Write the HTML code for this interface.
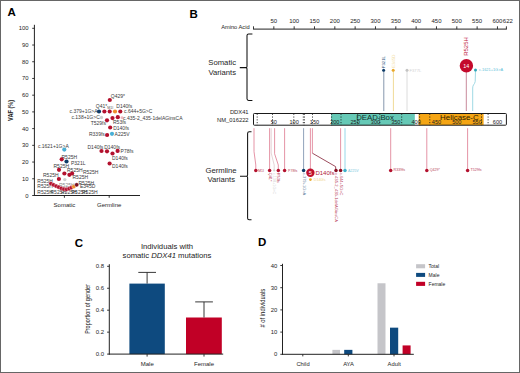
<!DOCTYPE html>
<html><head><meta charset="utf-8"><style>
html,body{margin:0;padding:0;background:#fff;}
body{width:520px;height:373px;overflow:hidden;position:relative;}
svg{display:block;position:absolute;left:0;top:0;}
text{font-family:"Liberation Sans",sans-serif;}
</style></head><body>
<svg width="520" height="373" viewBox="0 0 520 373">
<rect x="0" y="0" width="520" height="373" fill="#fff"/>
<text x="7.4" y="15.7" font-size="11.5" text-anchor="start" fill="#000" font-weight="bold">A</text>
<line x1="34.4" y1="24.8" x2="34.4" y2="196.0" stroke="#222" stroke-width="1" />
<line x1="32.199999999999996" y1="195.5" x2="34.4" y2="195.5" stroke="#222" stroke-width="0.9" />
<text x="28.6" y="197.5" font-size="5.9" text-anchor="end" fill="#1e1e1e" >0</text>
<line x1="32.199999999999996" y1="178.78" x2="34.4" y2="178.78" stroke="#222" stroke-width="0.9" />
<text x="28.6" y="180.78" font-size="5.9" text-anchor="end" fill="#1e1e1e" >10</text>
<line x1="32.199999999999996" y1="162.06" x2="34.4" y2="162.06" stroke="#222" stroke-width="0.9" />
<text x="28.6" y="164.06" font-size="5.9" text-anchor="end" fill="#1e1e1e" >20</text>
<line x1="32.199999999999996" y1="145.34" x2="34.4" y2="145.34" stroke="#222" stroke-width="0.9" />
<text x="28.6" y="147.34" font-size="5.9" text-anchor="end" fill="#1e1e1e" >30</text>
<line x1="32.199999999999996" y1="128.62" x2="34.4" y2="128.62" stroke="#222" stroke-width="0.9" />
<text x="28.6" y="130.62" font-size="5.9" text-anchor="end" fill="#1e1e1e" >40</text>
<line x1="32.199999999999996" y1="111.9" x2="34.4" y2="111.9" stroke="#222" stroke-width="0.9" />
<text x="28.6" y="113.9" font-size="5.9" text-anchor="end" fill="#1e1e1e" >50</text>
<line x1="32.199999999999996" y1="95.18" x2="34.4" y2="95.18" stroke="#222" stroke-width="0.9" />
<text x="28.6" y="97.18" font-size="5.9" text-anchor="end" fill="#1e1e1e" >60</text>
<line x1="32.199999999999996" y1="78.46000000000001" x2="34.4" y2="78.46000000000001" stroke="#222" stroke-width="0.9" />
<text x="28.6" y="80.46000000000001" font-size="5.9" text-anchor="end" fill="#1e1e1e" >70</text>
<line x1="32.199999999999996" y1="61.74000000000001" x2="34.4" y2="61.74000000000001" stroke="#222" stroke-width="0.9" />
<text x="28.6" y="63.74000000000001" font-size="5.9" text-anchor="end" fill="#1e1e1e" >80</text>
<line x1="32.199999999999996" y1="45.02000000000001" x2="34.4" y2="45.02000000000001" stroke="#222" stroke-width="0.9" />
<text x="28.6" y="47.02000000000001" font-size="5.9" text-anchor="end" fill="#1e1e1e" >90</text>
<line x1="32.199999999999996" y1="28.30000000000001" x2="34.4" y2="28.30000000000001" stroke="#222" stroke-width="0.9" />
<text x="28.6" y="30.30000000000001" font-size="5.9" text-anchor="end" fill="#1e1e1e" >100</text>
<line x1="33.9" y1="195.5" x2="140" y2="195.5" stroke="#222" stroke-width="1" />
<line x1="64.4" y1="195.5" x2="64.4" y2="197.8" stroke="#222" stroke-width="0.9" />
<line x1="109.2" y1="195.5" x2="109.2" y2="197.8" stroke="#222" stroke-width="0.9" />
<text x="64.4" y="206.7" font-size="6" text-anchor="middle" fill="#1e1e1e" >Somatic</text>
<text x="109.2" y="206.7" font-size="6" text-anchor="middle" fill="#1e1e1e" >Germline</text>
<text transform="translate(12.9,110.4) rotate(-90) scale(0.85,1)" font-size="6.6" font-weight="bold" text-anchor="middle" fill="#222">VAF (%)</text>
<circle cx="109.8" cy="100" r="2.1" fill="#b3112e"/>
<text x="110.8" y="98.3" font-size="5" text-anchor="start" fill="#3a3a3a" >Q429*</text>
<text x="95.8" y="108" font-size="5" text-anchor="start" fill="#3a3a3a" >Q41*</text>
<text x="107.3" y="109" font-size="3.5" text-anchor="start" fill="#555" >M1I</text>
<text x="116.3" y="108" font-size="5" text-anchor="start" fill="#3a3a3a" >D140fs</text>
<circle cx="99" cy="111.5" r="2.1" fill="#0e3c68"/>
<circle cx="104.4" cy="111.5" r="2.1" fill="#b3112e"/>
<circle cx="109.7" cy="111.5" r="2.1" fill="#b3112e"/>
<circle cx="115" cy="111.5" r="2.1" fill="#ef8d2c"/>
<circle cx="120.3" cy="111.5" r="2.1" fill="#b3112e"/>
<text x="97.6" y="113.2" font-size="5" text-anchor="end" fill="#3a3a3a" >c.379+1G&gt;A</text>
<text x="124" y="113" font-size="5" text-anchor="start" fill="#3a3a3a" >c.644+5G&gt;C</text>
<circle cx="101.5" cy="117.5" r="1.6800000000000002" fill="#cfcfcf"/>
<circle cx="112.5" cy="118.1" r="2.1" fill="#b3112e"/>
<circle cx="117.8" cy="117.2" r="2.1" fill="#b3112e"/>
<circle cx="122" cy="117.7" r="1.47" fill="#efb9c4"/>
<text x="99.8" y="119.4" font-size="5" text-anchor="end" fill="#3a3a3a" >c.138+1G&gt;C</text>
<text x="123" y="119.5" font-size="5" text-anchor="start" fill="#3a3a3a" >c.435-2_435-1delAGinsCA</text>
<circle cx="107" cy="120.3" r="2.1" fill="#b3112e"/>
<text x="113" y="123.5" font-size="5" text-anchor="start" fill="#3a3a3a" >R53fs</text>
<text x="106" y="125.4" font-size="5" text-anchor="end" fill="#3a3a3a" >T529fs</text>
<circle cx="110.2" cy="127.5" r="2.1" fill="#b3112e"/>
<text x="113.2" y="129.7" font-size="5" text-anchor="start" fill="#3a3a3a" >D140fs</text>
<circle cx="107.1" cy="135" r="2.1" fill="#b3112e"/>
<circle cx="112" cy="133.8" r="2.1" fill="#49afd6"/>
<text x="104.8" y="136" font-size="5" text-anchor="end" fill="#3a3a3a" >R339fs</text>
<text x="114.6" y="136" font-size="5" text-anchor="start" fill="#3a3a3a" >A225V</text>
<text x="87.5" y="148.6" font-size="5" text-anchor="start" fill="#3a3a3a" >D140fs</text>
<text x="104.2" y="148.8" font-size="5" text-anchor="start" fill="#3a3a3a" >D140fs</text>
<circle cx="101.5" cy="151" r="2.1" fill="#b3112e"/>
<circle cx="107" cy="151.3" r="2.1" fill="#b3112e"/>
<circle cx="112.5" cy="153.5" r="2.1" fill="#b3112e"/>
<circle cx="117.6" cy="150.9" r="2.1" fill="#b3112e"/>
<text x="120.6" y="153" font-size="5" text-anchor="start" fill="#3a3a3a" >P78fs</text>
<text x="112" y="160" font-size="5" text-anchor="start" fill="#3a3a3a" >D140fs</text>
<circle cx="109.6" cy="163.5" r="2.1" fill="#b3112e"/>
<text x="112" y="167.5" font-size="5" text-anchor="start" fill="#3a3a3a" >D140fs</text>
<text x="37.9" y="147.7" font-size="5" text-anchor="start" fill="#3a3a3a" >c.1621+1G&gt;A</text>
<circle cx="64.3" cy="149.6" r="2.1" fill="#49afd6"/>
<text x="61.5" y="159" font-size="5" text-anchor="start" fill="#3a3a3a" >R525H</text>
<circle cx="61.7" cy="159.3" r="2.1" fill="#b3112e"/>
<circle cx="66.5" cy="161.5" r="2.1" fill="#0e3c68"/>
<text x="71" y="164.8" font-size="5" text-anchor="start" fill="#3a3a3a" >P321L</text>
<text x="53.5" y="167.9" font-size="5" text-anchor="start" fill="#3a3a3a" >R525H</text>
<circle cx="59" cy="169.8" r="2.1" fill="#b3112e"/>
<text x="67" y="172" font-size="5" text-anchor="start" fill="#3a3a3a" >R525H</text>
<circle cx="64.4" cy="173.5" r="2.1" fill="#b3112e"/>
<circle cx="69.4" cy="174.8" r="2.1" fill="#b3112e"/>
<circle cx="72.1" cy="173.5" r="2.1" fill="#b3112e"/>
<text x="82.9" y="174" font-size="5" text-anchor="start" fill="#3a3a3a" >R525H</text>
<text x="43" y="177" font-size="5" text-anchor="start" fill="#3a3a3a" >R525H</text>
<circle cx="58.9" cy="179" r="2.1" fill="#b3112e"/>
<circle cx="64.8" cy="179.6" r="1.6800000000000002" fill="#cfcfcf"/>
<text x="72.5" y="179.4" font-size="5" text-anchor="start" fill="#3a3a3a" >R525H</text>
<text x="37.3" y="183.1" font-size="5" text-anchor="start" fill="#3a3a3a" >R525H</text>
<text x="37.3" y="188.4" font-size="5" text-anchor="start" fill="#3a3a3a" >R525H</text>
<text x="78.5" y="184.8" font-size="5" text-anchor="start" fill="#3a3a3a" >R525H</text>
<text x="80" y="188.4" font-size="5" text-anchor="start" fill="#3a3a3a" >E345D</text>
<text x="59" y="187.2" font-size="5" text-anchor="start" fill="#888" >R525H</text>
<text x="37.3" y="193.8" font-size="5" text-anchor="start" fill="#3a3a3a" >R525H</text>
<text x="50.5" y="193.8" font-size="5" text-anchor="start" fill="#3a3a3a" >R525H</text>
<text x="61" y="193.8" font-size="5" text-anchor="start" fill="#3a3a3a" >R525H</text>
<text x="71.5" y="193.8" font-size="5" text-anchor="start" fill="#3a3a3a" >R525H</text>
<text x="82" y="193.8" font-size="5" text-anchor="start" fill="#3a3a3a" >R525H</text>
<circle cx="50.9" cy="183.6" r="2.1" fill="#b3112e" stroke="#fff" stroke-width="0.35"/>
<circle cx="53.5" cy="184.9" r="2.1" fill="#b3112e" stroke="#fff" stroke-width="0.35"/>
<circle cx="56.1" cy="186.1" r="2.1" fill="#b3112e" stroke="#fff" stroke-width="0.35"/>
<circle cx="58.7" cy="187.2" r="2.1" fill="#b3112e" stroke="#fff" stroke-width="0.35"/>
<circle cx="61.3" cy="188.3" r="2.1" fill="#b3112e" stroke="#fff" stroke-width="0.35"/>
<circle cx="63.9" cy="189.2" r="2.1" fill="#b3112e" stroke="#fff" stroke-width="0.35"/>
<circle cx="66.5" cy="189.4" r="2.1" fill="#b3112e" stroke="#fff" stroke-width="0.35"/>
<circle cx="69.1" cy="188.7" r="2.1" fill="#b3112e" stroke="#fff" stroke-width="0.35"/>
<circle cx="71.4" cy="187.6" r="2.1" fill="#b3112e" stroke="#fff" stroke-width="0.35"/>
<circle cx="73.8" cy="186.6" r="2.1" fill="#ef8d2c" stroke="#fff" stroke-width="0.35"/>
<circle cx="76.7" cy="184.8" r="2.1" fill="#7a0f1f" stroke="#fff" stroke-width="0.35"/>
<text x="189.6" y="18.1" font-size="11.5" text-anchor="start" fill="#000" font-weight="bold">B</text>
<text x="249.6" y="28.6" font-size="5.7" text-anchor="end" fill="#1e1e1e" >Amino Acid</text>
<line x1="253.1" y1="29.1" x2="506.8052" y2="29.1" stroke="#222" stroke-width="1" />
<line x1="253.5" y1="26.3" x2="253.5" y2="29.1" stroke="#222" stroke-width="0.9" />
<line x1="273.83" y1="26.3" x2="273.83" y2="29.1" stroke="#222" stroke-width="0.9" />
<text x="273.83" y="22.5" font-size="6" text-anchor="middle" fill="#1e1e1e" >50</text>
<line x1="294.16" y1="26.3" x2="294.16" y2="29.1" stroke="#222" stroke-width="0.9" />
<text x="294.16" y="22.5" font-size="6" text-anchor="middle" fill="#1e1e1e" >100</text>
<line x1="314.49" y1="26.3" x2="314.49" y2="29.1" stroke="#222" stroke-width="0.9" />
<text x="314.49" y="22.5" font-size="6" text-anchor="middle" fill="#1e1e1e" >150</text>
<line x1="334.82" y1="26.3" x2="334.82" y2="29.1" stroke="#222" stroke-width="0.9" />
<text x="334.82" y="22.5" font-size="6" text-anchor="middle" fill="#1e1e1e" >200</text>
<line x1="355.15" y1="26.3" x2="355.15" y2="29.1" stroke="#222" stroke-width="0.9" />
<text x="355.15" y="22.5" font-size="6" text-anchor="middle" fill="#1e1e1e" >250</text>
<line x1="375.48" y1="26.3" x2="375.48" y2="29.1" stroke="#222" stroke-width="0.9" />
<text x="375.48" y="22.5" font-size="6" text-anchor="middle" fill="#1e1e1e" >300</text>
<line x1="395.81" y1="26.3" x2="395.81" y2="29.1" stroke="#222" stroke-width="0.9" />
<text x="395.81" y="22.5" font-size="6" text-anchor="middle" fill="#1e1e1e" >350</text>
<line x1="416.14" y1="26.3" x2="416.14" y2="29.1" stroke="#222" stroke-width="0.9" />
<text x="416.14" y="22.5" font-size="6" text-anchor="middle" fill="#1e1e1e" >400</text>
<line x1="436.47" y1="26.3" x2="436.47" y2="29.1" stroke="#222" stroke-width="0.9" />
<text x="436.47" y="22.5" font-size="6" text-anchor="middle" fill="#1e1e1e" >450</text>
<line x1="456.8" y1="26.3" x2="456.8" y2="29.1" stroke="#222" stroke-width="0.9" />
<text x="456.8" y="22.5" font-size="6" text-anchor="middle" fill="#1e1e1e" >500</text>
<line x1="477.13" y1="26.3" x2="477.13" y2="29.1" stroke="#222" stroke-width="0.9" />
<text x="477.13" y="22.5" font-size="6" text-anchor="middle" fill="#1e1e1e" >550</text>
<line x1="497.46000000000004" y1="26.3" x2="497.46000000000004" y2="29.1" stroke="#222" stroke-width="0.9" />
<text x="497.46000000000004" y="22.5" font-size="6" text-anchor="middle" fill="#1e1e1e" >600</text>
<line x1="506.40520000000004" y1="26.3" x2="506.40520000000004" y2="29.1" stroke="#222" stroke-width="0.9" />
<text x="507.8052" y="22.5" font-size="6" text-anchor="middle" fill="#1e1e1e" >622</text>
<path d="M252.4,33.9 L248.6,33.9 Q247,33.9 247,35.5 L247,66.39999999999999 Q247,67.6 245.8,67.6 L239.8,67.6 M245.8,67.6 Q247,67.6 247,68.8 L247,98.80000000000001 Q247,100.4 248.6,100.4 L252.4,100.4" stroke="#111" stroke-width="1.05" fill="none" />
<text x="222.2" y="65.3" font-size="7.7" text-anchor="middle" fill="#1e1e1e" >Somatic</text>
<text x="222.2" y="74.6" font-size="7.7" text-anchor="middle" fill="#1e1e1e" >Variants</text>
<path d="M251.5,131.8 L249.2,131.8 Q247.6,131.8 247.6,133.4 L247.6,175.0 Q247.6,176.2 246.4,176.2 L240,176.2 M246.4,176.2 Q247.6,176.2 247.6,177.39999999999998 L247.6,218.20000000000002 Q247.6,219.8 249.2,219.8 L251.5,219.8" stroke="#111" stroke-width="1.05" fill="none" />
<text x="221" y="172.7" font-size="7.7" text-anchor="middle" fill="#1e1e1e" >Germline</text>
<text x="221.2" y="182.2" font-size="7.7" text-anchor="middle" fill="#1e1e1e" >Variants</text>
<rect x="253.5" y="113.5" width="252.90520000000004" height="11.700000000000003" fill="#fff" />
<rect x="331.1" y="113.5" width="83.69999999999999" height="11.700000000000003" fill="#66c9b6" />
<rect x="418.6" y="113.5" width="65.0" height="11.700000000000003" fill="#f5a514" />
<line x1="257.2" y1="113.7" x2="257.2" y2="125.2" stroke="#1a1a1a" stroke-width="0.9" stroke-dasharray="1.1,1.7"/>
<line x1="272.5" y1="113.7" x2="272.5" y2="125.2" stroke="#1a1a1a" stroke-width="0.9" stroke-dasharray="1.1,1.7"/>
<line x1="293.8" y1="113.7" x2="293.8" y2="125.2" stroke="#1a1a1a" stroke-width="0.9" stroke-dasharray="1.1,1.7"/>
<line x1="303.3" y1="113.7" x2="303.3" y2="125.2" stroke="#1a1a1a" stroke-width="0.9" stroke-dasharray="1.1,1.7"/>
<line x1="304.4" y1="113.7" x2="304.4" y2="125.2" stroke="#1a1a1a" stroke-width="0.9" stroke-dasharray="1.1,1.7"/>
<line x1="312.5" y1="113.7" x2="312.5" y2="125.2" stroke="#1a1a1a" stroke-width="0.9" stroke-dasharray="1.1,1.7"/>
<line x1="331.6" y1="113.7" x2="331.6" y2="125.2" stroke="#1a1a1a" stroke-width="0.9" stroke-dasharray="1.1,1.7"/>
<line x1="341" y1="113.7" x2="341" y2="125.2" stroke="#1a1a1a" stroke-width="0.9" stroke-dasharray="1.1,1.7"/>
<line x1="357.7" y1="113.7" x2="357.7" y2="125.2" stroke="#1a1a1a" stroke-width="0.9" stroke-dasharray="1.1,1.7"/>
<line x1="379.8" y1="113.7" x2="379.8" y2="125.2" stroke="#1a1a1a" stroke-width="0.9" stroke-dasharray="1.1,1.7"/>
<line x1="401.7" y1="113.7" x2="401.7" y2="125.2" stroke="#1a1a1a" stroke-width="0.9" stroke-dasharray="1.1,1.7"/>
<line x1="419.6" y1="113.7" x2="419.6" y2="125.2" stroke="#1a1a1a" stroke-width="0.9" stroke-dasharray="1.1,1.7"/>
<line x1="429.8" y1="113.7" x2="429.8" y2="125.2" stroke="#1a1a1a" stroke-width="0.9" stroke-dasharray="1.1,1.7"/>
<line x1="481.5" y1="113.7" x2="481.5" y2="125.2" stroke="#1a1a1a" stroke-width="0.9" stroke-dasharray="1.1,1.7"/>
<line x1="488.1" y1="113.7" x2="488.1" y2="125.2" stroke="#1a1a1a" stroke-width="0.9" stroke-dasharray="1.1,1.7"/>
<rect x="253.5" y="113.5" width="252.90520000000004" height="11.700000000000003" rx="0.8" fill="none" stroke="#1a1a1a" stroke-width="1"/>
<text x="375" y="120.3" font-size="7.8" text-anchor="middle" fill="#12302b" >DEAD-Box</text>
<text x="459.4" y="120.3" font-size="7.9" text-anchor="middle" fill="#2a1a00" >Helicase-C</text>
<text x="273.83" y="124.3" font-size="5.6" text-anchor="middle" fill="#222" >50</text>
<text x="294.16" y="124.3" font-size="5.6" text-anchor="middle" fill="#222" >100</text>
<text x="314.49" y="124.3" font-size="5.6" text-anchor="middle" fill="#222" >150</text>
<text x="334.82" y="124.3" font-size="5.6" text-anchor="middle" fill="#222" >200</text>
<text x="355.15" y="124.3" font-size="5.6" text-anchor="middle" fill="#222" >250</text>
<text x="375.48" y="124.3" font-size="5.6" text-anchor="middle" fill="#222" >300</text>
<text x="395.81" y="124.3" font-size="5.6" text-anchor="middle" fill="#222" >350</text>
<text x="416.14" y="124.3" font-size="5.6" text-anchor="middle" fill="#222" >400</text>
<text x="436.47" y="124.3" font-size="5.6" text-anchor="middle" fill="#222" >450</text>
<text x="456.8" y="124.3" font-size="5.6" text-anchor="middle" fill="#222" >500</text>
<text x="477.13" y="124.3" font-size="5.6" text-anchor="middle" fill="#222" >550</text>
<text x="497.46000000000004" y="124.3" font-size="5.6" text-anchor="middle" fill="#222" >600</text>
<text x="248.6" y="114.4" font-size="5.8" text-anchor="end" fill="#1e1e1e" >DDX41</text>
<text x="248.6" y="122" font-size="5.8" text-anchor="end" fill="#1e1e1e" >NM_016222</text>
<line x1="383.8" y1="70" x2="383.8" y2="111" stroke="#8797ad" stroke-width="1" />
<circle cx="383.6" cy="70.2" r="1.5" fill="#0e3c68"/>
<text transform="translate(385.1,68.3) rotate(-90)" font-size="4.2" fill="#2d4f78">P321L</text>
<line x1="393.4" y1="70" x2="393.4" y2="111" stroke="#f0da98" stroke-width="1" />
<circle cx="393.2" cy="70.2" r="1.5" fill="#e9a82a"/>
<text transform="translate(394.7,67.7) rotate(-90)" font-size="4.3" fill="#f2dc9c">E345D</text>
<line x1="407" y1="70" x2="407" y2="111" stroke="#d8d8d8" stroke-width="0.9" />
<circle cx="407" cy="70.2" r="1.5" fill="#c4c4c4"/>
<text x="409.6" y="71.6" font-size="4.1" text-anchor="start" fill="#d2d2d2" >F377L</text>
<line x1="466.3" y1="66" x2="466.3" y2="111" stroke="#c98a9c" stroke-width="1" />
<circle cx="466.4" cy="65.8" r="6.7" fill="#c40a2c"/>
<text x="466.3" y="67.7" font-size="5.4" text-anchor="middle" fill="#fff" >14</text>
<text transform="translate(468.4,55.8) rotate(-90)" font-size="6" fill="#c01c3c">R525H</text>
<path d="M475.5,70.3 L475.2,81.5 Q474.8,83.5 473.6,84.8 Q472.7,86 472.7,88 L472.7,111" stroke="#9fd9e4" stroke-width="1" fill="none" />
<circle cx="475.5" cy="70" r="1.5" fill="#2ea6b8"/>
<text x="479" y="71.3" font-size="3.9" text-anchor="start" fill="#5cc0d8" >c.1621+1G&gt;A</text>
<path d="M254,128.2 L254,151.5 L255.8,165 L255.8,170.4" stroke="#e2889c" stroke-width="0.9" fill="none" />
<circle cx="255.8" cy="170.4" r="1.75" fill="#b3112e"/>
<text x="258" y="171.6" font-size="3.6" text-anchor="start" fill="#b8405a" >M1I</text>
<line x1="269.6" y1="128.2" x2="269.6" y2="170.4" stroke="#e2889c" stroke-width="0.9" />
<circle cx="269.6" cy="170.4" r="1.75" fill="#b3112e"/>
<text transform="translate(268.7,172.8) rotate(90)" font-size="3.8" fill="#b8405a">Q41*</text>
<path d="M271.2,128.2 L271.2,153 L274.2,165 L274.2,170.4" stroke="#e0c8cc" stroke-width="0.8" fill="none" />
<circle cx="274.2" cy="170.4" r="1.1" fill="#cfd8cf"/>
<text transform="translate(273.3,172.8) rotate(90)" font-size="3.8" fill="#d6d6d6">c.138+1G&gt;C</text>
<path d="M274.6,128.2 L274.6,153.8 L278.3,165 L278.3,170.4" stroke="#e2889c" stroke-width="0.9" fill="none" />
<circle cx="278.3" cy="170.4" r="1.75" fill="#b3112e"/>
<text transform="translate(277.4,172.8) rotate(90)" font-size="3.8" fill="#b8405a">R53fs</text>
<line x1="284.6" y1="128.2" x2="284.6" y2="170.4" stroke="#e2889c" stroke-width="0.9" />
<circle cx="284.6" cy="170.4" r="1.75" fill="#b3112e"/>
<text x="288" y="171.6" font-size="3.6" text-anchor="start" fill="#b8405a" >P78fs</text>
<line x1="303.6" y1="128.2" x2="303.6" y2="170.4" stroke="#8497b3" stroke-width="0.9" />
<circle cx="303.6" cy="170.4" r="1.75" fill="#0e3c68"/>
<text transform="translate(302.7,172.8) rotate(90)" font-size="4" fill="#5a7899">c.379+1G&gt;A</text>
<line x1="310.4" y1="128.2" x2="310.4" y2="170.4" stroke="#e2889c" stroke-width="0.9" />
<path d="M312.4,128.2 L312.4,153.2" stroke="#e2889c" stroke-width="0.9" fill="none" />
<path d="M312.4,153.2 L335.6,166.6 L335.8,170.4" stroke="#8a2c40" stroke-width="0.85" fill="none" />
<circle cx="310.4" cy="179.6" r="1.4" fill="#e9a82a"/>
<text x="313.8" y="180.8" font-size="3.7" text-anchor="start" fill="#f0d48a" >D140fs</text>
<circle cx="310.4" cy="172.7" r="4.2" fill="#c0102c"/>
<text x="310.4" y="174.8" font-size="5.6" text-anchor="middle" fill="#fff" >5</text>
<text x="315.4" y="175" font-size="6" text-anchor="start" fill="#b0203a" >D140fs</text>
<circle cx="336" cy="170.4" r="1.75" fill="#8a0f22"/>
<text transform="translate(335.1,172.8) rotate(90)" font-size="4.15" fill="#b8405a">c.435-2_435-1delAGinsCA</text>
<line x1="340.6" y1="128.2" x2="340.6" y2="170.4" stroke="#e2889c" stroke-width="0.9" />
<circle cx="340.6" cy="170.4" r="1.75" fill="#8a0f22"/>
<text transform="translate(339.7,172.8) rotate(90)" font-size="4" fill="#b8405a">c.644+5G&gt;C</text>
<line x1="345" y1="128.2" x2="345" y2="170.4" stroke="#8ad4e6" stroke-width="0.9" />
<circle cx="345" cy="170.4" r="1.75" fill="#3fb0cc"/>
<text x="347.9" y="171.6" font-size="3.6" text-anchor="start" fill="#7cc8e0" >A225V</text>
<line x1="390.7" y1="128.2" x2="390.7" y2="170.4" stroke="#e2889c" stroke-width="0.9" />
<circle cx="390.7" cy="170.4" r="1.75" fill="#b3112e"/>
<text x="393.59999999999997" y="171.4" font-size="3.6" text-anchor="start" fill="#b8405a" >R339fs</text>
<line x1="426.8" y1="128.2" x2="426.8" y2="170.4" stroke="#e2889c" stroke-width="0.9" />
<circle cx="426.8" cy="170.4" r="1.75" fill="#b3112e"/>
<text x="429.7" y="171.4" font-size="3.6" text-anchor="start" fill="#b8405a" >Q429*</text>
<line x1="467.6" y1="128.2" x2="467.6" y2="170.4" stroke="#e2889c" stroke-width="0.9" />
<circle cx="467.6" cy="170.4" r="1.75" fill="#b3112e"/>
<text x="470.5" y="171.4" font-size="3.6" text-anchor="start" fill="#b8405a" >T529fs</text>
<text x="74.8" y="246.7" font-size="11.5" text-anchor="start" fill="#000" font-weight="bold">C</text>
<text x="167" y="248.8" font-size="7.7" text-anchor="middle" fill="#222" >Individuals with</text>
<text x="167" y="258" font-size="7.7" text-anchor="middle" fill="#222">somatic <tspan font-style="italic">DDX41</tspan> mutations</text>
<line x1="109.3" y1="264.2" x2="109.3" y2="354.6" stroke="#222" stroke-width="1" />
<line x1="107.1" y1="354.1" x2="109.3" y2="354.1" stroke="#222" stroke-width="0.9" />
<text x="104" y="356.1" font-size="6" text-anchor="end" fill="#1e1e1e" >0.0</text>
<line x1="107.1" y1="332.15000000000003" x2="109.3" y2="332.15000000000003" stroke="#222" stroke-width="0.9" />
<text x="104" y="334.15000000000003" font-size="6" text-anchor="end" fill="#1e1e1e" >0.2</text>
<line x1="107.1" y1="310.20000000000005" x2="109.3" y2="310.20000000000005" stroke="#222" stroke-width="0.9" />
<text x="104" y="312.20000000000005" font-size="6" text-anchor="end" fill="#1e1e1e" >0.4</text>
<line x1="107.1" y1="288.25" x2="109.3" y2="288.25" stroke="#222" stroke-width="0.9" />
<text x="104" y="290.25" font-size="6" text-anchor="end" fill="#1e1e1e" >0.6</text>
<line x1="107.1" y1="266.3" x2="109.3" y2="266.3" stroke="#222" stroke-width="0.9" />
<text x="104" y="268.3" font-size="6" text-anchor="end" fill="#1e1e1e" >0.8</text>
<text transform="translate(89.8,309) rotate(-90) scale(0.78,1)" font-size="7" text-anchor="middle" fill="#222">Proportion of gender</text>
<rect x="129.4" y="283.6" width="35.4" height="70.5" fill="#0e4a7f" />
<rect x="186" y="317.5" width="35.8" height="36.60000000000002" fill="#c10026" />
<line x1="147.1" y1="283.6" x2="147.1" y2="272.4" stroke="#222" stroke-width="0.9" />
<line x1="138.3" y1="272.4" x2="156" y2="272.4" stroke="#222" stroke-width="0.9" />
<line x1="204" y1="317.5" x2="204" y2="301.9" stroke="#222" stroke-width="0.9" />
<line x1="195.2" y1="301.9" x2="212.9" y2="301.9" stroke="#222" stroke-width="0.9" />
<line x1="108.8" y1="354.1" x2="223.2" y2="354.1" stroke="#222" stroke-width="1" />
<line x1="147.1" y1="354.1" x2="147.1" y2="356.6" stroke="#222" stroke-width="0.9" />
<line x1="204" y1="354.1" x2="204" y2="356.6" stroke="#222" stroke-width="0.9" />
<text x="147.3" y="365.6" font-size="6" text-anchor="middle" fill="#1e1e1e" >Male</text>
<text x="204" y="365.6" font-size="6" text-anchor="middle" fill="#1e1e1e" >Female</text>
<text x="258" y="246.4" font-size="11.5" text-anchor="start" fill="#000" font-weight="bold">D</text>
<line x1="282.5" y1="263.8" x2="282.5" y2="354.8" stroke="#222" stroke-width="1" />
<line x1="280.3" y1="354.3" x2="282.5" y2="354.3" stroke="#222" stroke-width="0.9" />
<text x="277.2" y="356.3" font-size="5.9" text-anchor="end" fill="#1e1e1e" >0</text>
<line x1="280.3" y1="332.1" x2="282.5" y2="332.1" stroke="#222" stroke-width="0.9" />
<text x="277.2" y="334.1" font-size="5.9" text-anchor="end" fill="#1e1e1e" >10</text>
<line x1="280.3" y1="309.9" x2="282.5" y2="309.9" stroke="#222" stroke-width="0.9" />
<text x="277.2" y="311.9" font-size="5.9" text-anchor="end" fill="#1e1e1e" >20</text>
<line x1="280.3" y1="287.7" x2="282.5" y2="287.7" stroke="#222" stroke-width="0.9" />
<text x="277.2" y="289.7" font-size="5.9" text-anchor="end" fill="#1e1e1e" >30</text>
<line x1="280.3" y1="265.5" x2="282.5" y2="265.5" stroke="#222" stroke-width="0.9" />
<text x="277.2" y="267.5" font-size="5.9" text-anchor="end" fill="#1e1e1e" >40</text>
<text transform="translate(265.2,308.2) rotate(-90) scale(0.84,1)" font-size="7" text-anchor="middle" fill="#222"># of individuals</text>
<rect x="332.4" y="349.86" width="7.6" height="4.44" fill="#c5c5c9" />
<rect x="344.2" y="349.86" width="8.2" height="4.44" fill="#0e4a7f" />
<rect x="377.5" y="283.26" width="8" height="71.04" fill="#c5c5c9" />
<rect x="390" y="327.66" width="8.2" height="26.64" fill="#0e4a7f" />
<rect x="402.6" y="345.42" width="8" height="8.88" fill="#c10026" />
<line x1="282.0" y1="354.3" x2="413.8" y2="354.3" stroke="#222" stroke-width="1" />
<line x1="302.8" y1="354.3" x2="302.8" y2="356.4" stroke="#222" stroke-width="0.9" />
<line x1="348.3" y1="354.3" x2="348.3" y2="356.4" stroke="#222" stroke-width="0.9" />
<line x1="394" y1="354.3" x2="394" y2="356.4" stroke="#222" stroke-width="0.9" />
<text x="303" y="365.6" font-size="5.8" text-anchor="middle" fill="#1e1e1e" >Child</text>
<text x="348.5" y="365.6" font-size="5.8" text-anchor="middle" fill="#1e1e1e" >AYA</text>
<text x="394.2" y="365.6" font-size="5.8" text-anchor="middle" fill="#1e1e1e" >Adult</text>
<rect x="416.1" y="264.2" width="9" height="4.1" fill="#c5c5c9" />
<rect x="416.1" y="272.9" width="9" height="4" fill="#0e4a7f" />
<rect x="416.1" y="281.8" width="9" height="4.1" fill="#c10026" />
<text x="428.6" y="268.1" font-size="5" text-anchor="start" fill="#1e1e1e" >Total</text>
<text x="428.6" y="276.9" font-size="5" text-anchor="start" fill="#1e1e1e" >Male</text>
<text x="428.6" y="285.8" font-size="5" text-anchor="start" fill="#1e1e1e" >Female</text>
<rect x="0.5" y="0.5" width="519" height="372" fill="none" stroke="#666" stroke-width="1"/>
</svg>
</body></html>
